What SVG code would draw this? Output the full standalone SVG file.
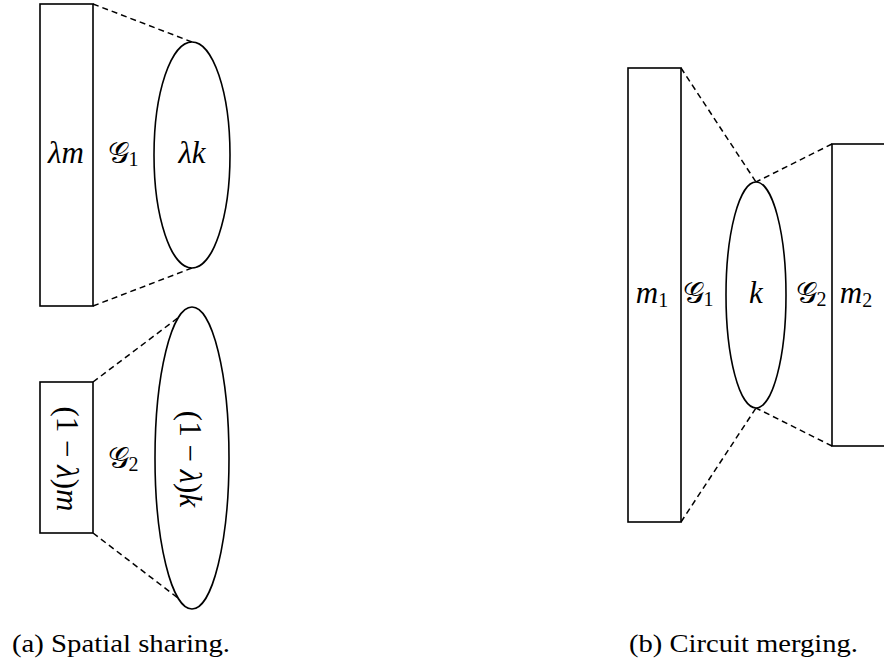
<svg xmlns="http://www.w3.org/2000/svg" width="884" height="663" viewBox="0 0 884 663">
<style>
.s{fill:#fff;stroke:#000;stroke-width:1.6}
.d{fill:none;stroke:#000;stroke-width:1.5;stroke-dasharray:6 4}
.m{font-family:"Liberation Serif","DejaVu Serif",serif;font-style:italic;font-size:31px;text-anchor:middle}
.r{font-style:normal}
.g{font-family:"DejaVu Serif","Liberation Serif",serif;font-size:30px;text-anchor:middle}
.sub{font-size:20px;font-style:normal;font-family:"Liberation Serif",serif}
.c{font-family:"Liberation Serif",serif;font-size:26px}
</style>
<g id="connectors">
<line class="d" x1="93" y1="4" x2="192" y2="42"/>
<line class="d" x1="93" y1="306" x2="192" y2="268"/>
<line class="d" x1="93" y1="382" x2="191" y2="308"/>
<line class="d" x1="93" y1="533" x2="191" y2="608"/>
<line class="d" x1="681" y1="68" x2="756" y2="182"/>
<line class="d" x1="681" y1="522" x2="756" y2="408"/>
<line class="d" x1="832" y1="144" x2="756" y2="182"/>
<line class="d" x1="832" y1="446" x2="756" y2="408"/>
</g>
<g id="a-rect1"><rect class="s" x="40" y="4" width="53" height="302"/><text class="m" x="66" y="163">λm</text></g>
<g id="a-g1"><text class="g" x="123" y="163">𝒢<tspan class="sub" dy="3">1</tspan></text></g>
<g id="a-ell1"><ellipse class="s" cx="192" cy="155" rx="38" ry="113"/><text class="m" x="192" y="163">λk</text></g>
<g id="a-rect2"><rect class="s" x="40" y="382" width="53" height="151"/><text class="m" transform="translate(57 459) rotate(90)"><tspan class="r">(1 − </tspan>λ<tspan class="r">)</tspan>m</text></g>
<g id="a-g2"><text class="g" x="123" y="468">𝒢<tspan class="sub" dy="3">2</tspan></text></g>
<g id="a-ell2"><ellipse class="s" cx="192" cy="458" rx="37" ry="151"/><text class="m" transform="translate(180 459) rotate(90)"><tspan class="r">(1 − </tspan>λ<tspan class="r">)</tspan>k</text></g>
<g id="b-rect1"><rect class="s" x="628" y="68" width="53" height="454"/><text class="m" x="652" y="303">m<tspan class="sub" dy="4">1</tspan></text></g>
<g id="b-g1"><text class="g" x="698" y="303">𝒢<tspan class="sub" dy="3">1</tspan></text></g>
<g id="b-ell"><ellipse class="s" cx="756" cy="295" rx="30" ry="113"/><text class="m" x="756" y="303">k</text></g>
<g id="b-g2"><text class="g" x="811" y="303">𝒢<tspan class="sub" dy="3">2</tspan></text></g>
<g id="b-rect2"><rect class="s" x="832" y="144" width="60" height="302"/><text class="m" x="856" y="303">m<tspan class="sub" dy="4">2</tspan></text></g>
<text class="c" x="12" y="652" textLength="218" lengthAdjust="spacingAndGlyphs">(a) Spatial sharing.</text>
<text class="c" x="629" y="652" textLength="229" lengthAdjust="spacingAndGlyphs">(b) Circuit merging.</text>
</svg>
